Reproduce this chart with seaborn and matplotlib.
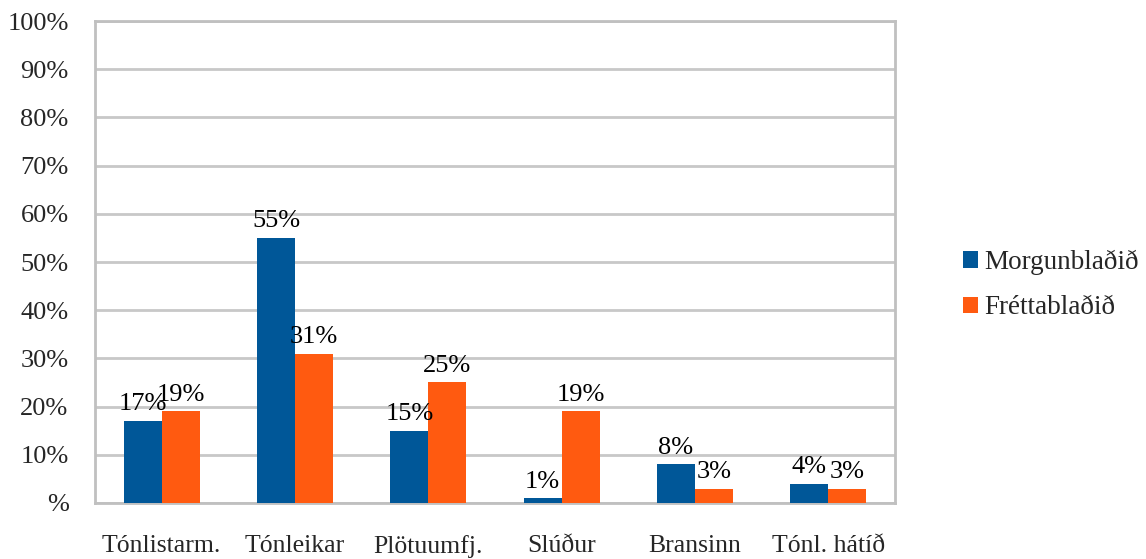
import pandas as pd
import matplotlib.pyplot as plt
import seaborn as sns

categories = ["Tónlistarm.", "Tónleikar", "Plötuumfj.", "Slúður", "Bransinn", "Tónl. hátíð"]
morgunbladid = [17, 55, 15, 1, 8, 4]
frettabladid = [19, 31, 25, 19, 3, 3]
series = ["Morgunblaðið", "Fréttablaðið"]
colors = ["#005798", "#FF5A10"]

df = pd.DataFrame({
    "flokkur": categories * 2,
    "blad": [series[0]] * len(categories) + [series[1]] * len(categories),
    "hlutfall": morgunbladid + frettabladid,
})

sns.set_style("white")
plt.rcParams['font.family'] = ['Liberation Serif', 'DejaVu Serif']

fig = plt.figure(figsize=(11.46, 5.59), dpi=100)
ax = fig.add_axes([0.0829, 0.1002, 0.6981, 0.8622])

sns.barplot(data=df, x="flokkur", y="hlutfall", hue="blad", palette=colors,
            width=0.57, ax=ax, saturation=1, errorbar=None, zorder=3, linewidth=0)

for cont in ax.containers:
    ax.bar_label(cont, labels=[f"{v:.0f}%" for v in cont.datavalues],
                 padding=4, fontsize=19, color="black")

ax.set_ylim(0, 100)
ax.set_yticks(range(0, 101, 10))
ax.set_yticklabels(["%"] + [f"{v}%" for v in range(10, 101, 10)], fontsize=19)
ax.tick_params(axis="x", labelsize=18.5, pad=23, length=0)
ax.tick_params(axis="y", pad=19, length=0)
ax.set_xlabel("")
ax.set_ylabel("")
ax.yaxis.grid(True, color="#C8C8C8", linewidth=2, zorder=0)
ax.set_axisbelow(True)
for s in ax.spines.values():
    s.set_color("#C0C0C0")
    s.set_linewidth(2)

ax.legend(loc="center left", bbox_to_anchor=(1.085, 0.452), frameon=False, fontsize=19.5,
          handlelength=0.55, handleheight=0.55, handletextpad=0.25, labelspacing=0.75,
          borderpad=0, borderaxespad=0)

fig.savefig("out.png", dpi=100)
